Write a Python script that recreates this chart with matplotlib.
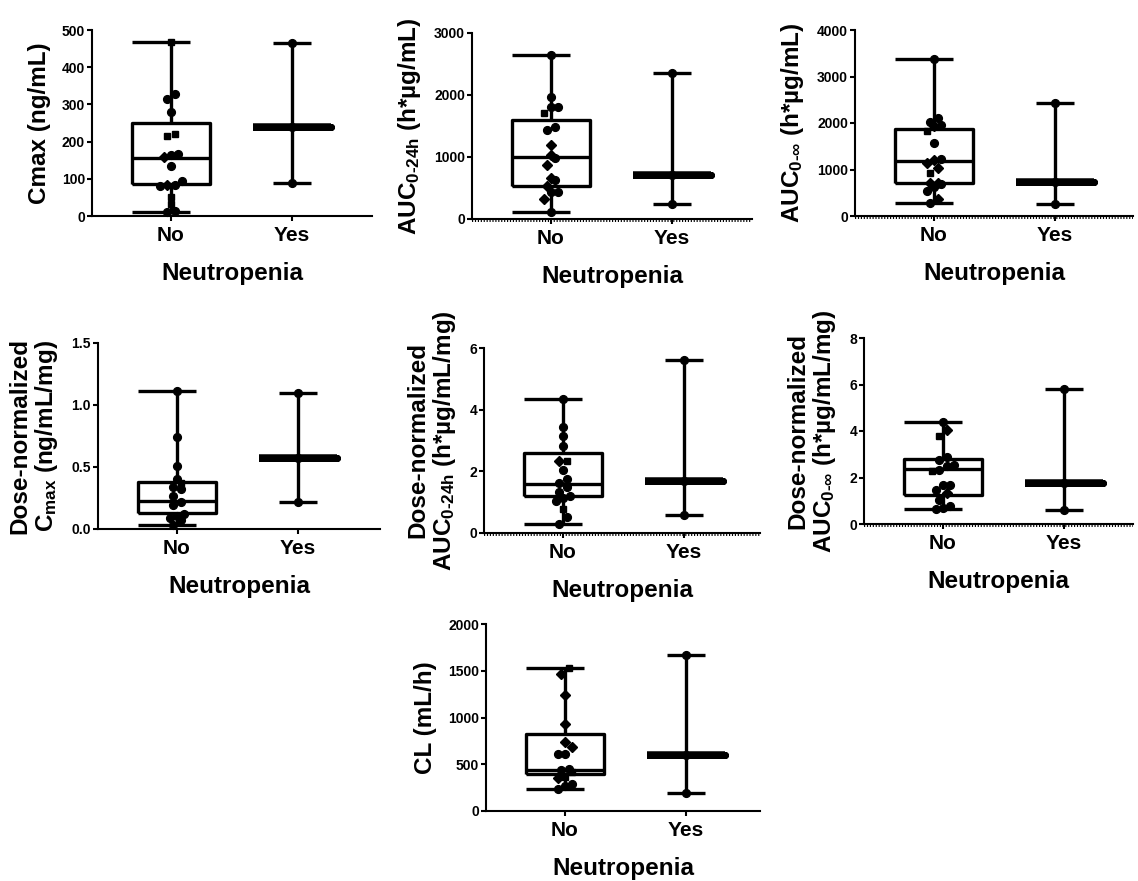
import numpy as np
import matplotlib
matplotlib.use("Agg")
import matplotlib.pyplot as plt
from matplotlib import transforms

plt.rcParams['font.family'] = ['Liberation Sans', 'DejaVu Sans']
plt.rcParams['font.weight'] = 'bold'
plt.rcParams['mathtext.fontset'] = 'custom'
plt.rcParams['mathtext.rm'] = 'Liberation Sans:bold'
plt.rcParams['mathtext.bf'] = 'Liberation Sans:bold'
plt.rcParams['mathtext.it'] = 'Liberation Sans:bold'
plt.rcParams['mathtext.sf'] = 'Liberation Sans:bold'
plt.rcParams['mathtext.default'] = 'rm'

groups = ['No', 'Yes']
xlabel = 'Neutropenia'
# symbol code per subject: 0 = circle, 1 = square, 2 = diamond
SYMBOLS = {0: 'o', 1: 's', 2: 'D'}

# Cmax (ng/mL)
cmax_no = [468, 327, 314, 279, 220, 215, 166, 164, 158, 135, 94, 83, 83, 80, 52, 32, 14, 11]
cmax_no_sym = [1, 0, 0, 0, 1, 1, 0, 0, 2, 0, 0, 2, 0, 0, 1, 1, 0, 0]
cmax_no_quart = [85, 155, 249]
cmax_yes = [465, 240, 90]
cmax_yes_quart = [240, 240, 240]

# AUC0-24h (h*ug/mL)
auc24_no = [2650, 1960, 1810, 1800, 1710, 1484, 1440, 1188, 1038, 984, 866, 661, 629, 527, 435, 430, 323, 115]
auc24_no_sym = [0, 0, 0, 0, 1, 0, 0, 2, 2, 0, 2, 2, 0, 2, 0, 0, 2, 0]
auc24_no_quart = [538, 1000, 1602]
auc24_yes = [2350, 715, 240]
auc24_yes_quart = [715, 715, 715]

# AUC0-inf (h*ug/mL)
aucinf_no = [3369, 2100, 2029, 1957, 1935, 1828, 1563, 1219, 1204, 1133, 1025, 918, 717, 717, 688, 616, 545, 366, 290]
aucinf_no_sym = [0, 0, 0, 0, 2, 1, 0, 0, 2, 2, 2, 1, 2, 2, 0, 0, 0, 2, 0]
aucinf_no_quart = [717, 1180, 1871]
aucinf_yes = [2437, 738, 258]
aucinf_yes_quart = [738, 738, 738]

# Dose-normalized Cmax (ng/mL/mg)
dncmax_no = [1.113, 0.742, 0.508, 0.403, 0.371, 0.335, 0.325, 0.266, 0.215, 0.195, 0.12, 0.105, 0.09, 0.075, 0.03]
dncmax_no_sym = [0, 0, 0, 0, 1, 0, 0, 0, 0, 0, 0, 0, 0, 0, 0]
dncmax_no_quart = [0.132, 0.226, 0.377]
dncmax_yes = [1.10, 0.57, 0.22]
dncmax_yes_quart = [0.57, 0.57, 0.57]

# Dose-normalized AUC0-24h (h*ug/mL/mg)
dnauc24_no = [4.36, 3.45, 3.13, 2.83, 2.34, 2.35, 2.05, 1.76, 1.62, 1.49, 1.33, 1.21, 1.15, 1.05, 0.79, 0.52, 0.30]
dnauc24_no_sym = [0, 0, 0, 0, 2, 1, 0, 0, 0, 0, 0, 0, 0, 0, 1, 0, 0]
dnauc24_no_quart = [1.19, 1.60, 2.59]
dnauc24_yes = [5.62, 1.70, 0.59]
dnauc24_yes_quart = [1.70, 1.70, 1.70]

# Dose-normalized AUC0-inf (h*ug/mL/mg)
dnaucinf_no = [4.39, 4.03, 3.77, 2.87, 2.77, 2.52, 2.48, 2.34, 2.29, 1.69, 1.66, 1.48, 1.33, 1.05, 0.76, 0.69, 0.66]
dnaucinf_no_sym = [0, 2, 1, 0, 0, 0, 0, 0, 1, 0, 0, 0, 2, 0, 0, 0, 0]
dnaucinf_no_quart = [1.26, 2.36, 2.81]
dnaucinf_yes = [5.81, 1.76, 0.62]
dnaucinf_yes_quart = [1.76, 1.76, 1.76]

# CL (mL/h)
cl_no = [1525, 1464, 1239, 930, 738, 684, 610, 610, 449, 438, 420, 364, 353, 289, 267, 235]
cl_no_sym = [1, 2, 2, 2, 2, 2, 0, 0, 0, 0, 1, 1, 2, 0, 0, 0]
cl_no_quart = [395, 440, 823]
cl_yes = [1668, 596, 190]
cl_yes_quart = [596, 596, 596]

FIG_W, FIG_H = 1138, 881
fig = plt.figure(figsize=(FIG_W / 100, FIG_H / 100), dpi=100)
fig.patch.set_facecolor('white')

panels = [
    dict(box=(92, 30, 372, 216), no=cmax_no, sym=cmax_no_sym, q=cmax_no_quart,
         yes=cmax_yes, yq=cmax_yes_quart, ticks=[0, 100, 200, 300, 400, 500],
         label='Cmax (ng/mL)', dotted=False, fmt='{:.0f}'),
    dict(box=(472, 33, 752, 219), no=auc24_no, sym=auc24_no_sym, q=auc24_no_quart,
         yes=auc24_yes, yq=auc24_yes_quart, ticks=[0, 1000, 2000, 3000],
         label=r'AUC$_{0\text{-}24h}$ (h*µg/mL)', dotted=True, fmt='{:.0f}'),
    dict(box=(855, 30, 1133, 216), no=aucinf_no, sym=aucinf_no_sym, q=aucinf_no_quart,
         yes=aucinf_yes, yq=aucinf_yes_quart, ticks=[0, 1000, 2000, 3000, 4000],
         label=r'AUC$_{0\text{-}\infty}$ (h*µg/mL)', dotted=True, fmt='{:.0f}'),
    dict(box=(98, 343, 380, 529), no=dncmax_no, sym=dncmax_no_sym, q=dncmax_no_quart,
         yes=dncmax_yes, yq=dncmax_yes_quart, ticks=[0.0, 0.5, 1.0, 1.5],
         label='Dose-normalized\n' + r'C$_{max}$ (ng/mL/mg)', dotted=False, fmt='{:.1f}'),
    dict(box=(484, 348, 760, 533), no=dnauc24_no, sym=dnauc24_no_sym, q=dnauc24_no_quart,
         yes=dnauc24_yes, yq=dnauc24_yes_quart, ticks=[0, 2, 4, 6],
         label='Dose-normalized\n' + r'AUC$_{0\text{-}24h}$ (h*µg/mL/mg)', dotted=True, fmt='{:.0f}'),
    dict(box=(864, 338, 1133, 524), no=dnaucinf_no, sym=dnaucinf_no_sym, q=dnaucinf_no_quart,
         yes=dnaucinf_yes, yq=dnaucinf_yes_quart, ticks=[0, 2, 4, 6, 8],
         label='Dose-normalized\n' + r'AUC$_{0\text{-}\infty}$ (h*µg/mL/mg)', dotted=True, fmt='{:.0f}'),
    dict(box=(486, 624, 760, 811), no=cl_no, sym=cl_no_sym, q=cl_no_quart,
         yes=cl_yes, yq=cl_yes_quart, ticks=[0, 500, 1000, 1500, 2000],
         label='CL (mL/h)', dotted=False, fmt='{:.0f}'),
]

PX_PER_CAT = 121.0      # horizontal distance between the two groups, px
FIRST_CAT_PX = 79.0     # distance from the y axis to the first group, px
BOX_W = 0.64            # box width in category units
CAP_HALF = 0.157        # whisker cap half-width in category units
LW = 2.4
DOT_PX = 7.4            # symbol spacing used for the scatter spread


def swarm_offsets(values, px_per_unit):
    """Spread overlapping points sideways in centred rows (px offsets)."""
    vals = np.asarray(values, dtype=float)
    order = np.argsort(vals)
    offsets = np.zeros(len(vals))
    rows, row = [], []
    for i in order:
        if row and (vals[i] - vals[row[0]]) * px_per_unit >= DOT_PX:
            rows.append(row)
            row = []
        row.append(i)
    if row:
        rows.append(row)
    for r in rows:
        n = len(r)
        for k, i in enumerate(r):
            offsets[i] = (k - (n - 1) / 2.0) * DOT_PX
    return offsets


for p in panels:
    left, top, right, bottom = p['box']
    ax = fig.add_axes([left / FIG_W, 1 - bottom / FIG_H,
                       (right - left) / FIG_W, (bottom - top) / FIG_H])
    width_px = right - left
    height_px = bottom - top
    x0 = -FIRST_CAT_PX / PX_PER_CAT
    x1 = (width_px - FIRST_CAT_PX) / PX_PER_CAT
    ax.set_xlim(x0, x1)
    ymax = p['ticks'][-1]
    ax.set_ylim(0, ymax)
    y_px = height_px / ymax

    # box summaries: whiskers span min..max, box spans the quartiles
    stats = []
    for vals, q in ((p['no'], p['q']), (p['yes'], p['yq'])):
        stats.append(dict(whislo=min(vals), q1=q[0], med=q[1], q3=q[2],
                          whishi=max(vals), fliers=[]))
    bx = ax.bxp(stats, positions=[0, 1], widths=BOX_W, showcaps=False,
                patch_artist=False, manage_ticks=False,
                boxprops=dict(color='black', linewidth=LW),
                whiskerprops=dict(color='black', linewidth=LW),
                medianprops=dict(color='black', linewidth=LW))
    for ln in bx['boxes'][1:]:
        ln.set_linewidth(5.0)
    bx['medians'][1].set_linewidth(5.4)
    for ln in bx['boxes'] + bx['whiskers'] + bx['medians']:
        ln.set_solid_capstyle('butt')
        ln.set_zorder(2)

    # whisker caps
    for pos, st in zip([0, 1], stats):
        c_left = pos - BOX_W / 2 if pos == 0 else pos - CAP_HALF
        for yv in (st['whislo'], st['whishi']):
            ax.hlines(yv, c_left, pos + CAP_HALF, color='black', linewidth=LW, zorder=2)

    # individual subjects
    offs = swarm_offsets(p['no'], y_px) / PX_PER_CAT
    for v, s, o in zip(p['no'], p['sym'], offs):
        m = SYMBOLS[s]
        ms = {'o': 5.6, 's': 5.0, 'D': 4.8}[m]
        ax.plot(0 + o, v, marker=m, ms=ms, color='black', mec='black',
                linestyle='none', zorder=3, clip_on=False)
    for v in p['yes']:
        ax.plot(1, v, marker='o', ms=5.6, color='black', linestyle='none',
                zorder=3, clip_on=False)

    ax.spines['top'].set_visible(False)
    ax.spines['right'].set_visible(False)
    ax.spines['left'].set_linewidth(1.5)
    ax.spines['bottom'].set_linewidth(1.5)
    ax.set_xticks([0, 1])
    ax.set_xticklabels(groups, fontsize=15, fontweight='bold')
    ax.set_yticks(p['ticks'])
    ax.set_yticklabels([p['fmt'].format(t) for t in p['ticks']],
                       fontsize=10, fontweight='bold')
    ax.tick_params(axis='y', length=3.5, width=1.5, pad=1.5)
    ax.tick_params(axis='x', length=3.5, width=1.5, pad=4)
    ax.set_xlabel(xlabel, fontsize=17.5, fontweight='bold', labelpad=12)
    ax.set_ylabel(p['label'], fontsize=17.5, fontweight='bold', labelpad=8,
                  linespacing=1.1)
    ax.set_facecolor('none')

    if p['dotted']:
        tr = transforms.offset_copy(ax.transAxes, fig=fig, x=0, y=-2.4, units='dots')
        ax.plot([0, 1], [0, 0], transform=tr, color='black', linewidth=1.4,
                linestyle=(0, (0.6, 0.9)), clip_on=False, zorder=1)

fig.savefig('out.png', dpi=100, facecolor='white')
